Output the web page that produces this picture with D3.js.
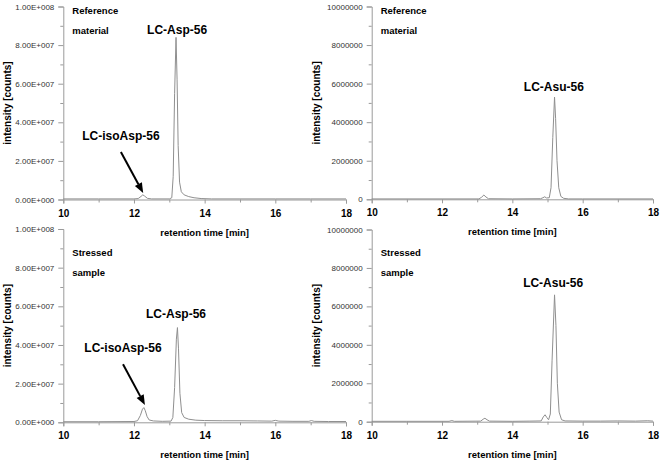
<!DOCTYPE html>
<html><head><meta charset="utf-8">
<script src="https://cdn.jsdelivr.net/npm/d3@7"></script>
<style>body{margin:0;background:#fff} text{font-family:"Liberation Sans",Arial,sans-serif}</style>
</head><body><svg id="c" width="661" height="462"></svg>
<script>
// ---- data ----
const xTicks = [10, 12, 14, 16, 18];
const xMinorTicks = [11, 13, 15, 17];
const yTicksAsp = [0, 2e7, 4e7, 6e7, 8e7, 1e8];
const yTicksAsu = [0, 2e6, 4e6, 6e6, 8e6, 1e7];
const xTitle = "retention time [min]";
const yTitle = "intensity [counts]";

// [retention time (min), intensity (counts)]
const refAsp = [[10.0,3e5],[11.0,3e5],[12.0,3e5],[12.12,5e5],[12.2,1.6e6],[12.25,2.4e6],[12.3,1.8e6],[12.38,6e5],[12.5,3e5],[13.0,3e5],[13.07,9e5],[13.11,1.2e7],[13.15,5.5e7],[13.19,8.4e7],[13.22,6.2e7],[13.25,2.8e7],[13.29,9e6],[13.34,4e6],[13.42,2.4e6],[13.55,1.5e6],[13.7,9e5],[13.9,5e5],[14.2,3e5],[15,3e5],[16,3e5],[17,3e5],[18,3e5]];
const refAsu = [[10,2e4],[12,2e4],[13.05,2e4],[13.12,1e5],[13.19,2.2e5],[13.25,1.2e5],[13.32,3e4],[14,2e4],[14.8,3e4],[14.87,8e4],[14.92,1.3e5],[14.97,7e4],[15.05,8e4],[15.1,6e5],[15.15,3.2e6],[15.2,5.3e6],[15.23,4.2e6],[15.27,2e6],[15.32,6e5],[15.38,1.5e5],[15.46,5e4],[15.6,2e4],[16,2e4],[18,2e4]];
const stressAsp = [[10,3e5],[11,3e5],[12,4e5],[12.1,8e5],[12.18,3.5e6],[12.24,6.8e6],[12.28,7.6e6],[12.32,6e6],[12.37,3e6],[12.43,1.2e6],[12.55,7e5],[12.8,5e5],[13.05,6e5],[13.1,2.5e6],[13.15,1.8e7],[13.2,4.3e7],[13.23,4.9e7],[13.26,3.8e7],[13.3,1.5e7],[13.35,5e6],[13.42,2.5e6],[13.55,1.6e6],[13.75,1.1e6],[14,9e5],[14.5,8e5],[15,8e5],[15.5,7e5],[15.9,6e5],[16.0,1e6],[16.1,6e5],[16.5,5e5],[16.95,5e5],[17.02,9e5],[17.1,5e5],[17.5,4e5],[18,4e5]];
const stressAsu = [[10,2e4],[11,2e4],[12.2,2e4],[12.28,6e4],[12.35,2e4],[13.1,3e4],[13.17,1.3e5],[13.22,1.8e5],[13.28,1e5],[13.35,3e4],[14,2e4],[14.5,3e4],[14.82,4e4],[14.88,2.5e5],[14.93,3.6e5],[14.98,2.2e5],[15.03,1e5],[15.08,4e5],[15.13,3.2e6],[15.2,6.6e6],[15.24,5e6],[15.28,2e6],[15.33,5e5],[15.4,1e5],[15.5,4e4],[16,3e4],[16.5,3e4],[17,4e4],[17.5,3e4],[17.85,5e4],[18,3e4]];

const notesRef = ["Reference", "material"];
const notesStress = ["Stressed", "sample"];
// peak labels: [text, time, intensity of baseline]
const labelsRefAsp = [["LC-Asp-56", 13.22, 8.59e7], ["LC-isoAsp-56", 11.63, 3.06e7]];
const labelsStressAsp = [["LC-Asp-56", 13.19, 5.4e7], ["LC-isoAsp-56", 11.69, 3.63e7]];
const labelsRefAsu = [["LC-Asu-56", 15.18, 5.61e6]];
const labelsStressAsu = [["LC-Asu-56", 15.16, 7.0e6]];
// arrows: [tail time, tail intensity, head time, head intensity]
const arrowsRef = [[11.63, 2.46e7, 12.26, 3.4e6]];
const arrowsStress = [[11.69, 3.0e7, 12.31, 9.0e6]];

// ---- layout ----
const sci = v => { if (v === 0) return "0.00E+000"; const [m, e] = d3.format(".2e")(v).split("e"); const s = e[0] === "-" ? "-" : "+"; return m + "E" + s + String(Math.abs(+e)).padStart(3, "0"); };
const plain = d3.format("d");
const panels = [
  {x0:63.3, x1:346, yT:6.5, yB:199.5, data:refAsp, yTicks:yTicksAsp, fmt:sci, notes:notesRef, noteY:[14,34], labels:labelsRefAsp, arrows:arrowsRef},
  {x0:371.7, x1:653, yT:6.5, yB:199.3, data:refAsu, yTicks:yTicksAsu, fmt:plain, notes:notesRef, noteY:[14,34], labels:labelsRefAsu, arrows:[]},
  {x0:63.3, x1:346, yT:229, yB:422.3, data:stressAsp, yTicks:yTicksAsp, fmt:sci, notes:notesStress, noteY:[255.5,275.5], labels:labelsStressAsp, arrows:arrowsStress},
  {x0:371.7, x1:653, yT:229.5, yB:421.7, data:stressAsu, yTicks:yTicksAsu, fmt:plain, notes:notesStress, noteY:[255.5,275.5], labels:labelsStressAsu, arrows:[]}
];
const svg = d3.select("#c");
const axisCol = "#9a9a9a";

panels.forEach(p => {
  const x = d3.scaleLinear().domain([10, 18]).range([p.x0, p.x1]);
  const yMax = p.yTicks[p.yTicks.length - 1];
  const y = d3.scaleLinear().domain([0, yMax]).range([p.yB, p.yT]);
  const g = svg.append("g");

  // x axis
  const xa = g.append("g").attr("transform", `translate(0,${p.yB})`)
    .call(d3.axisBottom(x).tickValues(xTicks).tickSize(4).tickPadding(6).tickFormat(d3.format("d")));
  xa.select(".domain").attr("stroke", axisCol);
  xa.selectAll(".tick line").attr("stroke", axisCol);
  xa.selectAll("text").attr("font-size", 10).attr("font-weight", "bold").attr("fill", "#000").attr("font-family", "Liberation Sans, Arial, sans-serif");
  const xm = g.append("g").attr("transform", `translate(0,${p.yB})`)
    .call(d3.axisBottom(x).tickValues(xMinorTicks).tickSize(3).tickFormat(""));
  xm.select(".domain").remove();
  xm.selectAll(".tick line").attr("stroke", axisCol);

  // y axis
  const ya = g.append("g").attr("transform", `translate(${p.x0},0)`)
    .call(d3.axisLeft(y).tickValues(p.yTicks).tickSize(5).tickPadding(4).tickFormat(p.fmt));
  ya.select(".domain").attr("stroke", axisCol);
  ya.selectAll(".tick line").attr("stroke", axisCol);
  ya.selectAll("text").attr("font-size", 8).attr("fill", "#333").attr("font-family", "Liberation Sans, Arial, sans-serif");
  const minor = p.yTicks.slice(1).map((v, i) => (v + p.yTicks[i]) / 2);
  const ym = g.append("g").attr("transform", `translate(${p.x0},0)`)
    .call(d3.axisLeft(y).tickValues(minor).tickSize(3).tickFormat(""));
  ym.select(".domain").remove();
  ym.selectAll(".tick line").attr("stroke", axisCol);

  // titles
  g.append("text").attr("x", (p.x0 + p.x1) / 2).attr("y", p.yB + 36).attr("text-anchor", "middle")
    .attr("font-size", 9.5).attr("font-weight", "bold").text(xTitle);
  g.append("text").attr("transform", `translate(${p.x0 - 52},${(p.yT + p.yB) / 2}) rotate(-90)`).attr("text-anchor", "middle")
    .attr("font-size", 10).attr("font-weight", "bold").text(yTitle);

  // trace
  g.append("path").datum(p.data).attr("fill", "none").attr("stroke", "#8f8f8f").attr("stroke-width", 1)
    .attr("d", d3.line().x(d => x(d[0])).y(d => y(d[1])));

  // notes
  p.notes.forEach((t, i) => g.append("text").attr("x", p.x0 + 9).attr("y", p.noteY[i])
    .attr("font-size", 9.5).attr("font-weight", "bold").text(t));
  // peak labels
  p.labels.forEach(l => g.append("text").attr("x", x(l[1])).attr("y", y(l[2])).attr("text-anchor", "middle")
    .attr("font-size", 12).attr("font-weight", "bold").text(l[0]));
  // arrows
  p.arrows.forEach(a => {
    const x1 = x(a[0]), y1 = y(a[1]), x2 = x(a[2]), y2 = y(a[3]);
    const ang = Math.atan2(y2 - y1, x2 - x1), L = 10, W = 4;
    const bx = x2 - L * Math.cos(ang), by = y2 - L * Math.sin(ang);
    g.append("line").attr("x1", x1).attr("y1", y1).attr("x2", bx).attr("y2", by).attr("stroke", "#000").attr("stroke-width", 2);
    const px = -Math.sin(ang) * W, py = Math.cos(ang) * W;
    g.append("path").attr("d", `M${x2},${y2}L${bx + px},${by + py}L${bx - px},${by - py}Z`).attr("fill", "#000");
  });
});
</script></body></html>
